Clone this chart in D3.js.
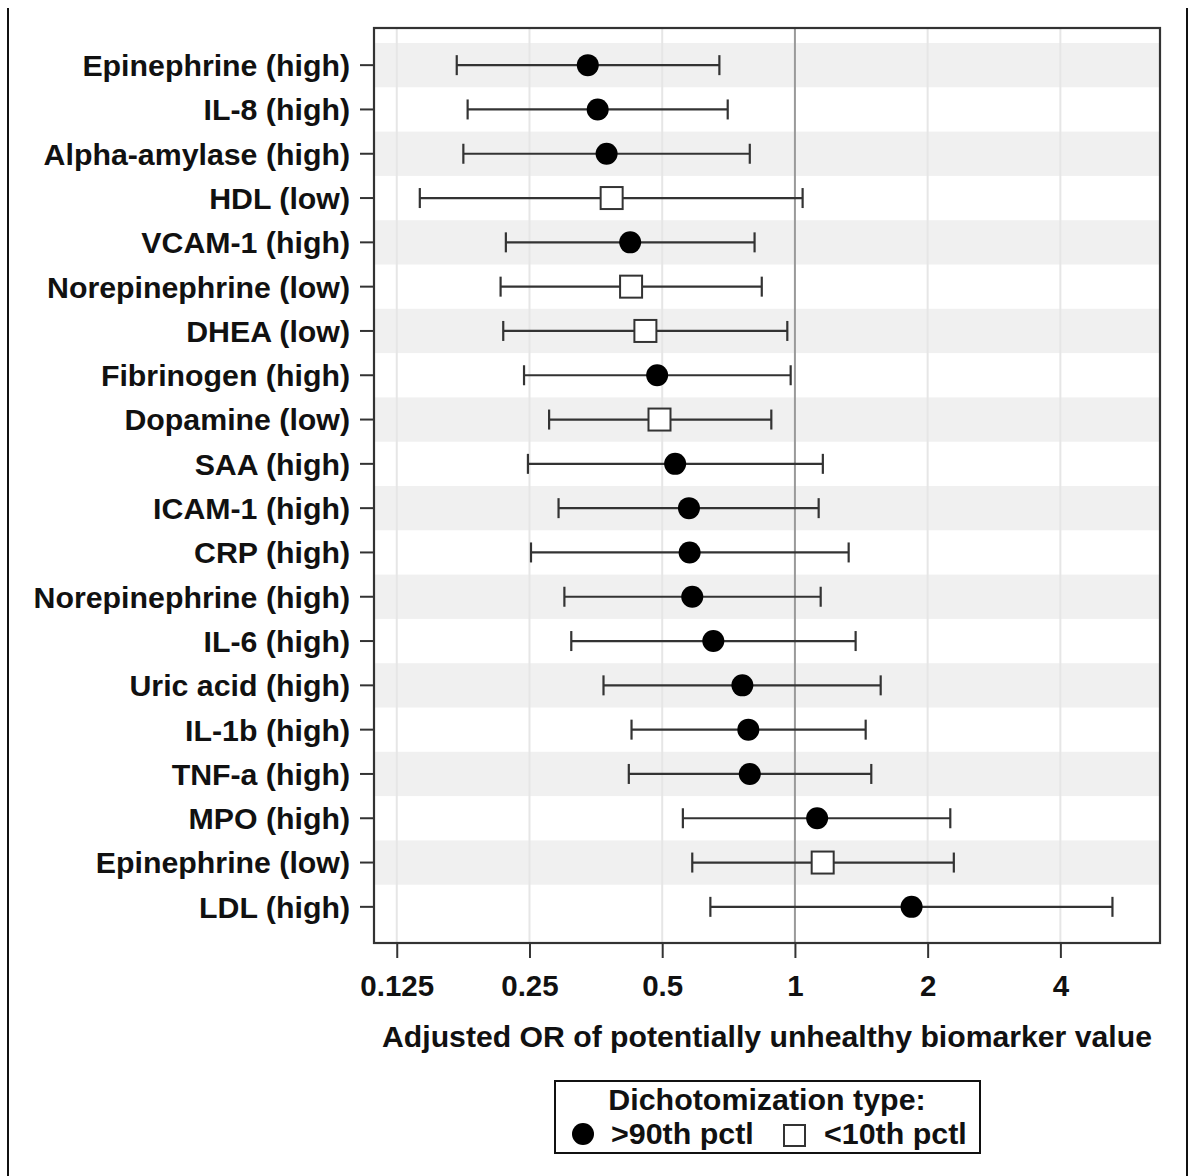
<!DOCTYPE html>
<html>
  <head>
    <meta charset="utf-8">
    <title>Adjusted OR of potentially unhealthy biomarker value</title>
    <script src="https://d3js.org/d3.v7.min.js"></script>
    <style>
      body { margin: 0; background: #fff; }
      svg { display: block; font-family: "Liberation Sans", Arial, sans-serif; font-weight: bold; }
    </style>
  </head>
<body>
  <script type="text/javascript">
    // biomarker rows, top to bottom
    var labels = ["Epinephrine (high)", "IL-8 (high)", "Alpha-amylase (high)", "HDL (low)",
                  "VCAM-1 (high)", "Norepinephrine (low)", "DHEA (low)", "Fibrinogen (high)",
                  "Dopamine (low)", "SAA (high)", "ICAM-1 (high)", "CRP (high)",
                  "Norepinephrine (high)", "IL-6 (high)", "Uric acid (high)", "IL-1b (high)",
                  "TNF-a (high)", "MPO (high)", "Epinephrine (low)", "LDL (high)"];
    // dichotomization: "hi" = >90th pctl, "lo" = <10th pctl
    var types = ["hi", "hi", "hi", "lo", "hi", "lo", "lo", "hi", "lo", "hi",
                 "hi", "hi", "hi", "hi", "hi", "hi", "hi", "hi", "lo", "hi"];
    var estimates = [0.339, 0.357, 0.374, 0.384, 0.423, 0.425, 0.458, 0.487, 0.493, 0.535,
                     0.575, 0.577, 0.585, 0.653, 0.760, 0.784, 0.790, 1.123, 1.156, 1.839];
    var lower = [0.171, 0.181, 0.177, 0.141, 0.221, 0.215, 0.218, 0.243, 0.277, 0.248,
                 0.291, 0.252, 0.300, 0.311, 0.368, 0.426, 0.420, 0.557, 0.585, 0.643];
    var upper = [0.674, 0.704, 0.790, 1.041, 0.810, 0.841, 0.961, 0.978, 0.884, 1.157,
                 1.132, 1.324, 1.144, 1.373, 1.565, 1.447, 1.490, 2.251, 2.293, 5.25];
    var xTicks = [0.125, 0.25, 0.5, 1, 2, 4];
    var xTickLabels = ["0.125", "0.25", "0.5", "1", "2", "4"];
    var legendLabels = [">90th pctl", "<10th pctl"];

    var data = labels.map(function(d, i) {
      return {label: d, type: types[i], est: estimates[i], lo: lower[i], hi: upper[i]};
    });

    // note: "top" is taken by window.top, so plot edges get their own names
    var W = 1189, H = 1176,
        plotLeft = 374, plotRight = 1160, plotTop = 28, plotBottom = 943;

    var svg = d3.select("body").append("svg")
        .attr("width", W)
        .attr("height", H);

    // page frame lines
    svg.append("line").attr("x1", 8).attr("x2", 8).attr("y1", 8).attr("y2", H)
        .attr("stroke", "#111").attr("stroke-width", 2);
    svg.append("line").attr("x1", 1187).attr("x2", 1187).attr("y1", 8).attr("y2", H)
        .attr("stroke", "#111").attr("stroke-width", 2);

    var x = d3.scaleLog().base(2)
        .domain([0.111, 6.73])
        .range([plotLeft, plotRight]);

    var y = d3.scaleBand()
        .domain(labels)
        .range([43, 929])
        .padding(0);

    // alternating stripes
    svg.append("g").selectAll("rect")
        .data(data.filter(function(d, i) { return i % 2 === 0; }))
      .enter().append("rect")
        .attr("x", plotLeft)
        .attr("width", plotRight - plotLeft)
        .attr("y", function(d) { return y(d.label); })
        .attr("height", y.bandwidth())
        .attr("fill", "#f0f0f0");

    // vertical grid
    svg.append("g").selectAll("line")
        .data(xTicks)
      .enter().append("line")
        .attr("x1", function(d) { return x(d); })
        .attr("x2", function(d) { return x(d); })
        .attr("y1", plotTop)
        .attr("y2", plotBottom)
        .attr("stroke", function(d) { return d === 1 ? "#9a9a9a" : "#e6e6e6"; })
        .attr("stroke-width", 2);

    // error bars
    var bars = svg.append("g").selectAll("g")
        .data(data)
      .enter().append("g")
        .attr("transform", function(d) { return "translate(0," + (y(d.label) + y.bandwidth() / 2) + ")"; });

    bars.append("line")
        .attr("x1", function(d) { return x(d.lo); })
        .attr("x2", function(d) { return x(d.hi); })
        .attr("stroke", "#333").attr("stroke-width", 2.2);
    bars.append("line")
        .attr("x1", function(d) { return x(d.lo); })
        .attr("x2", function(d) { return x(d.lo); })
        .attr("y1", -10).attr("y2", 10)
        .attr("stroke", "#333").attr("stroke-width", 2.2);
    bars.append("line")
        .attr("x1", function(d) { return x(d.hi); })
        .attr("x2", function(d) { return x(d.hi); })
        .attr("y1", -10).attr("y2", 10)
        .attr("stroke", "#333").attr("stroke-width", 2.2);

    bars.filter(function(d) { return d.type === "hi"; })
      .append("circle")
        .attr("cx", function(d) { return x(d.est); })
        .attr("r", 11)
        .attr("fill", "#000");
    bars.filter(function(d) { return d.type === "lo"; })
      .append("rect")
        .attr("x", function(d) { return x(d.est) - 11; })
        .attr("y", -11)
        .attr("width", 22)
        .attr("height", 22)
        .attr("fill", "#fff")
        .attr("stroke", "#333")
        .attr("stroke-width", 2);

    // plot border
    svg.append("rect")
        .attr("x", plotLeft).attr("y", plotTop)
        .attr("width", plotRight - plotLeft).attr("height", plotBottom - plotTop)
        .attr("fill", "none").attr("stroke", "#333").attr("stroke-width", 2.2);

    // y axis
    var yAxis = svg.append("g")
        .attr("transform", "translate(" + plotLeft + ",0)")
        .call(d3.axisLeft(y).tickSize(14).tickPadding(10));
    yAxis.select(".domain").remove();
    yAxis.selectAll(".tick line").attr("stroke", "#333").attr("stroke-width", 2);
    yAxis.selectAll(".tick text")
        .attr("font-size", 30.3)
        .attr("font-family", "Liberation Sans, Arial, sans-serif")
        .attr("font-weight", "bold")
        .attr("fill", "#111")
        .attr("dy", "0.36em");

    // x axis
    var xAxis = svg.append("g")
        .attr("transform", "translate(0," + plotBottom + ")")
        .call(d3.axisBottom(x).tickValues(xTicks)
              .tickFormat(function(d, i) { return xTickLabels[i]; })
              .tickSize(15));
    xAxis.select(".domain").remove();
    xAxis.selectAll(".tick line").attr("stroke", "#333").attr("stroke-width", 2);
    xAxis.selectAll(".tick text")
        .attr("font-size", 29.5)
        .attr("font-family", "Liberation Sans, Arial, sans-serif")
        .attr("font-weight", "bold")
        .attr("fill", "#111")
        .attr("y", 53)
        .attr("dy", 0);

    // x axis title
    svg.append("text")
        .attr("x", 767)
        .attr("y", 1047)
        .attr("text-anchor", "middle")
        .attr("font-size", 30.2)
        .attr("fill", "#111")
        .text("Adjusted OR of potentially unhealthy biomarker value");

    // legend
    var lg = svg.append("g");
    lg.append("rect")
        .attr("x", 555).attr("y", 1081)
        .attr("width", 425).attr("height", 72)
        .attr("fill", "#fff").attr("stroke", "#111").attr("stroke-width", 2);
    lg.append("text")
        .attr("x", 767).attr("y", 1110)
        .attr("text-anchor", "middle")
        .attr("font-size", 30.4)
        .attr("fill", "#111")
        .text("Dichotomization type:");
    lg.append("circle")
        .attr("cx", 583).attr("cy", 1134).attr("r", 11).attr("fill", "#000");
    lg.append("text")
        .attr("x", 611).attr("y", 1144)
        .attr("font-size", 30.4)
        .attr("fill", "#111")
        .text(legendLabels[0]);
    lg.append("rect")
        .attr("x", 784).attr("y", 1125).attr("width", 21).attr("height", 21)
        .attr("fill", "#fff").attr("stroke", "#333").attr("stroke-width", 2);
    lg.append("text")
        .attr("x", 824).attr("y", 1144)
        .attr("font-size", 30.4)
        .attr("fill", "#111")
        .text(legendLabels[1]);
  </script>
</body>
</html>
